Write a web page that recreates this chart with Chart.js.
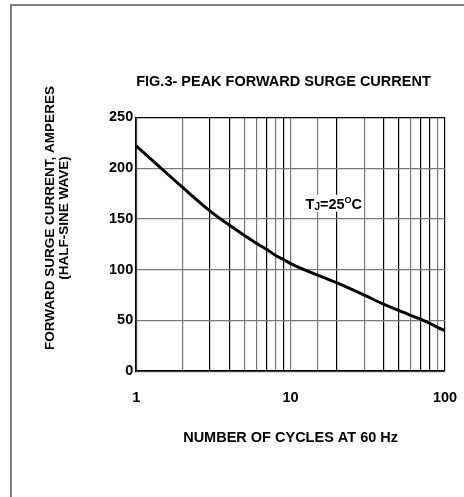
<!DOCTYPE html>
<html>
<head>
<meta charset="UTF-8">
<title>FIG.3- Peak Forward Surge Current</title>
<script src="https://cdn.jsdelivr.net/npm/chart.js"></script>
<style>
  html, body { margin: 0; padding: 0; background: #fff; }
  #wrap { width: 464px; height: 497px; }
</style>
</head>
<body>
<div id="wrap">
  <canvas id="surgeChart" width="464" height="497"></canvas>
</div>

<script>
    // values
    const cycles  = [1, 1.4, 2, 3, 4, 5, 6, 7, 8, 9, 10, 20, 30, 40, 50, 60, 70, 80, 90, 100];
    const current = [222, 202, 181, 158, 144, 134, 126, 120, 114, 110, 106, 87, 75, 66, 60, 55, 51, 47, 43, 40];

    const xTickLabels = [1, 10, 100];
    const darkGridX = [3, 4, 7, 9, 20, 40, 50, 70, 80, 100];   // these lines print darker in the scan

    const chartTitle = 'FIG.3- PEAK FORWARD SURGE CURRENT';
    const yTitle = ['FORWARD SURGE CURRENT, AMPERES', '(HALF-SINE WAVE)'];
    const xTitle = 'NUMBER OF CYCLES AT 60 Hz';
    const note = { x: 12.5, y: 165 };   // where the TJ=25°C note sits, in data units

    const FONT = 'Liberation Sans, Arial, Helvetica, sans-serif';

    // frame, rotated y title and the TJ note
    const extras = {
        id: 'extras',
        beforeDraw(chart) {
            const c = chart.ctx;
            c.save();
            c.strokeStyle = '#555';
            c.lineWidth = 1.5;
            c.beginPath();
            c.moveTo(11, 497);
            c.lineTo(11, 5);
            c.lineTo(464, 5);
            c.stroke();
            c.restore();
        },
        afterDraw(chart) {
            const c = chart.ctx;
            c.save();
            // y axis title, two lines
            c.fillStyle = '#000';
            c.font = 'bold 13.5px ' + FONT;
            c.textAlign = 'center';
            c.textBaseline = 'middle';
            c.translate(50.5, 218);
            c.rotate(-Math.PI / 2);
            c.fillText(yTitle[0], 0, 0);
            c.fillText(yTitle[1], 0, 13.5);
            c.restore();

            // TJ=25°C
            const px = chart.scales.x.getPixelForValue(note.x);
            const py = chart.scales.y.getPixelForValue(note.y);
            c.save();
            c.textBaseline = 'alphabetic';
            c.textAlign = 'left';
            const base = py + 5;
            const parts = [
                { t: 'T', size: 14.5, dy: 0 },
                { t: 'J', size: 10, dy: 1 },
                { t: '=25', size: 14.5, dy: 0 },
                { t: 'O', size: 9, dy: -6 },
                { t: 'C', size: 14.5, dy: 0 }
            ];
            let w = 0;
            parts.forEach(p => { c.font = 'bold ' + p.size + 'px ' + FONT; p.w = c.measureText(p.t).width; w += p.w; });
            c.fillStyle = '#fff';
            c.fillRect(px - 2, py - 9, w + 4, 17);
            c.fillStyle = '#000';
            let x = px;
            parts.forEach(p => {
                c.font = 'bold ' + p.size + 'px ' + FONT;
                c.fillText(p.t, x, base + p.dy);
                x += p.w;
            });
            c.restore();
        }
    };

    const ctx = document.getElementById('surgeChart').getContext('2d');

    const surgeChart = new Chart(ctx, {
        type: 'line',
        data: {
            datasets: [{
                data: cycles.map((n, i) => ({ x: n, y: current[i] })),
                borderColor: '#000',
                borderWidth: 3,
                pointRadius: 0,
                fill: false,
                cubicInterpolationMode: 'monotone'
            }]
        },
        options: {
            responsive: false,
            animation: false,
            layout: { padding: { left: 106, right: 19, top: 0, bottom: 50 } },
            plugins: {
                legend: { display: false },
                tooltip: { enabled: false },
                title: {
                    display: true,
                    text: chartTitle,
                    color: '#000',
                    align: 'start',
                    fullSize: false,
                    font: { family: FONT, size: 14.5, weight: 'bold' },
                    padding: { top: 73, bottom: 27 }
                }
            },
            scales: {
                x: {
                    type: 'logarithmic',
                    min: 1,
                    max: 100,
                    border: { display: true, color: '#000', width: 1.5 },
                    grid: {
                        drawTicks: true,
                        tickLength: 18,
                        tickColor: 'rgba(0,0,0,0)',
                        lineWidth: 1.2,
                        color: c => (c.tick && darkGridX.includes(c.tick.value)) ? '#000' : '#7a7a7a'
                    },
                    ticks: {
                        autoSkip: false,
                        maxRotation: 0,
                        padding: 0,
                        color: '#000',
                        font: { family: FONT, size: 14.5, weight: 'bold' },
                        callback: v => xTickLabels.includes(v) ? String(v) : ''
                    },
                    title: {
                        display: true,
                        text: xTitle,
                        color: '#000',
                        font: { family: FONT, size: 14.5, weight: 'bold' },
                        padding: { top: 23, bottom: 0 }
                    }
                },
                y: {
                    min: 0,
                    max: 250,
                    border: { display: true, color: '#000', width: 1.5 },
                    grid: {
                        drawTicks: false,
                        lineWidth: 1.2,
                        color: c => (c.tick && c.tick.value === 250) ? '#000' : '#7a7a7a'
                    },
                    ticks: {
                        stepSize: 50,
                        padding: 3,
                        color: '#000',
                        font: { family: FONT, size: 14.5, weight: 'bold' }
                    }
                }
            }
        },
        plugins: [extras]
    });
</script>
</body>
</html>
